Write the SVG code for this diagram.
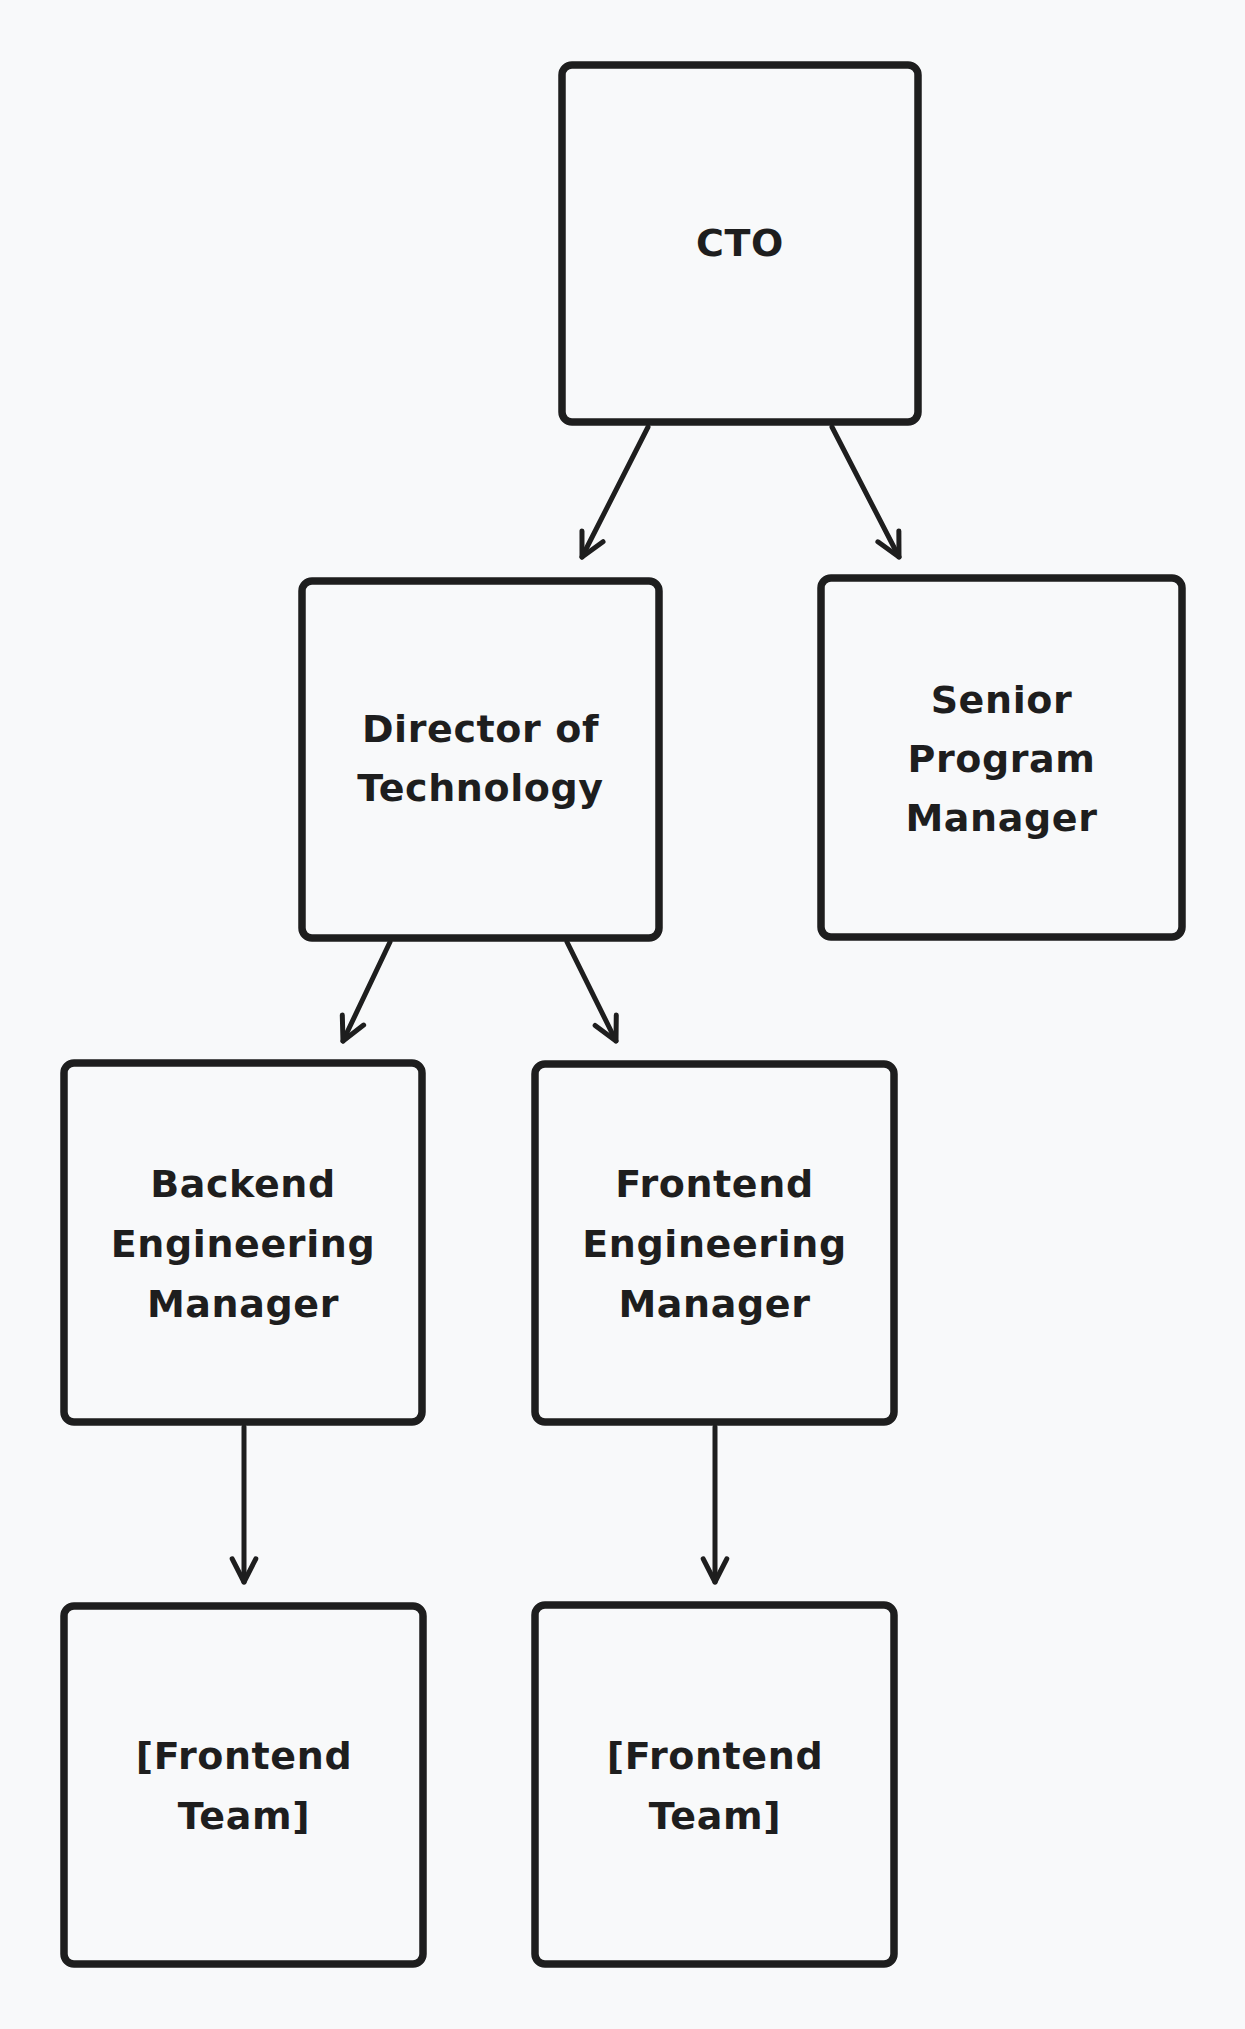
<svg xmlns="http://www.w3.org/2000/svg" width="1245" height="2029" viewBox="0 0 1245 2029">
  <style>
    .box { fill: #f8f9fa; stroke: #1e1e1e; stroke-width: 7.5; stroke-linejoin: round; }
    .lbl { font-family: "DejaVu Sans", "Liberation Sans", sans-serif; font-weight: bold; font-size: 38px; letter-spacing: 0.6px; fill: #1e1e1e; text-anchor: middle; }
    .edge { fill: none; stroke: #1e1e1e; stroke-width: 5; stroke-linecap: round; }
  </style>
  <defs>
    <marker id="arrow" markerUnits="userSpaceOnUse" viewBox="-30 -20 40 40" markerWidth="40" markerHeight="40" refX="0" refY="0" orient="auto" overflow="visible">
      <path d="M -23.2 -11.8 L 0 0 L -23.2 11.8" fill="none" stroke="#1e1e1e" stroke-width="5" stroke-linecap="round" stroke-linejoin="round"/>
    </marker>
  </defs>
  <rect width="1245" height="2029" fill="#f8f9fa"/>

  <g id="connectors">
    <line class="edge" x1="648" y1="427" x2="582" y2="557" marker-end="url(#arrow)"/>
    <line class="edge" x1="832" y1="427" x2="899" y2="557" marker-end="url(#arrow)"/>
    <line class="edge" x1="390" y1="942" x2="343" y2="1041" marker-end="url(#arrow)"/>
    <line class="edge" x1="567" y1="942" x2="616" y2="1041" marker-end="url(#arrow)"/>
    <line class="edge" x1="244" y1="1427" x2="244" y2="1582" marker-end="url(#arrow)"/>
    <line class="edge" x1="715" y1="1427" x2="715" y2="1582" marker-end="url(#arrow)"/>
  </g>

  <g id="cto">
    <rect class="box" x="562" y="65" width="356" height="357" rx="10"/>
    <text class="lbl" x="740" y="256">CTO</text>
  </g>

  <g id="director">
    <rect class="box" x="302" y="581" width="357" height="357" rx="10"/>
    <text class="lbl" x="480.5" y="742">Director of</text>
    <text class="lbl" x="480.5" y="801">Technology</text>
  </g>

  <g id="senior-pm">
    <rect class="box" x="821" y="578" width="361" height="359" rx="10"/>
    <text class="lbl" x="1001.5" y="713">Senior</text>
    <text class="lbl" x="1001.5" y="772">Program</text>
    <text class="lbl" x="1001.5" y="831">Manager</text>
  </g>

  <g id="backend-em">
    <rect class="box" x="64" y="1063" width="358" height="359" rx="10"/>
    <text class="lbl" x="243" y="1197">Backend</text>
    <text class="lbl" x="243" y="1257">Engineering</text>
    <text class="lbl" x="243" y="1317">Manager</text>
  </g>

  <g id="frontend-em">
    <rect class="box" x="535" y="1064" width="359" height="358" rx="10"/>
    <text class="lbl" x="714.5" y="1197">Frontend</text>
    <text class="lbl" x="714.5" y="1257">Engineering</text>
    <text class="lbl" x="714.5" y="1317">Manager</text>
  </g>

  <g id="team-1">
    <rect class="box" x="64" y="1606" width="359" height="358" rx="10"/>
    <text class="lbl" x="244" y="1769">[Frontend</text>
    <text class="lbl" x="244" y="1829">Team]</text>
  </g>

  <g id="team-2">
    <rect class="box" x="535" y="1605" width="359" height="359" rx="10"/>
    <text class="lbl" x="715" y="1769">[Frontend</text>
    <text class="lbl" x="715" y="1829">Team]</text>
  </g>
</svg>
